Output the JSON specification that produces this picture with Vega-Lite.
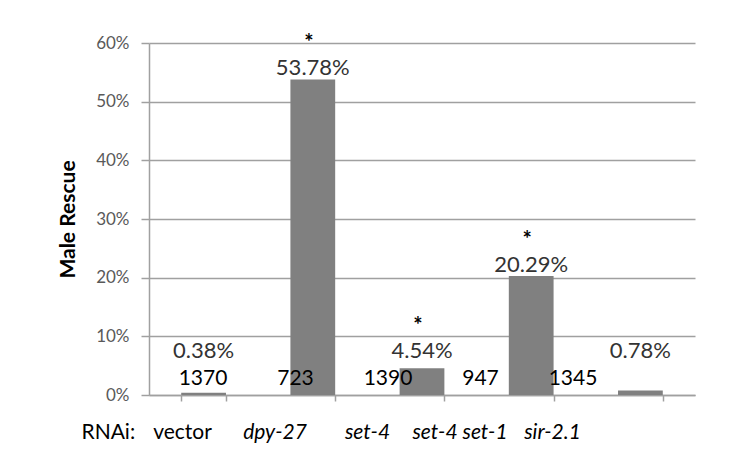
{
  "$schema": "https://vega.github.io/schema/vega-lite/v6.json",
  "width": 546,
  "height": 352,
  "autosize": {"type": "none"},
  "padding": {"left": 149, "top": 43, "right": 43, "bottom": 77},
  "background": "white",
  "config": {
    "view": {"stroke": null},
    "font": "Lato",
    "axis": {"domainColor": "#a0a0a0", "tickColor": "#a0a0a0", "gridColor": "#a0a0a0", "domainWidth": 1.5, "tickWidth": 1.5, "gridWidth": 1.5}
  },
  "datasets": {
    "rescue": [
      {"rnai": "vector", "rescue": 0.0038, "n": 1370, "sig": ""},
      {"rnai": "dpy-27", "rescue": 0.5378, "n": 723, "sig": "*"},
      {"rnai": "set-4", "rescue": 0.0454, "n": 1390, "sig": "*"},
      {"rnai": "set-4 set-1", "rescue": 0.2029, "n": 947, "sig": "*"},
      {"rnai": "sir-2.1", "rescue": 0.0078, "n": 1345, "sig": ""}
    ]
  },
  "data": {"name": "rescue"},
  "layer": [
    {
      "encoding": {
        "x": {
          "field": "rnai", "type": "nominal", "sort": null,
          "scale": {"domain": ["vector", "dpy-27", "set-4", "set-4 set-1", "sir-2.1"], "paddingInner": 0.59, "paddingOuter": 0.295},
          "axis": {"orient": "bottom", "title": null, "labels": false, "ticks": true, "tickSize": 6, "tickBand": "extent", "grid": false, "domain": true}
        },
        "y": {
          "field": "rescue", "type": "quantitative",
          "scale": {"domain": [0, 0.6]},
          "axis": {
            "title": "Male Rescue", "titleFont": "Lato", "titleFontSize": 21, "titleFontWeight": "bold", "titleColor": "#000000", "titlePadding": 17,
            "format": ".0%", "values": [0, 0.1, 0.2, 0.3, 0.4, 0.5, 0.6],
            "labelFont": "Lato", "labelFontSize": 17, "labelColor": "#595959", "labelPadding": 12,
            "tickSize": 8, "grid": true, "domain": true
          }
        }
      },
      "layer": [
        {"mark": {"type": "bar", "color": "#808080"}},
        {
          "transform": [{"filter": "datum.rescue >= 0.1"}],
          "mark": {"type": "text", "font": "Lato", "fontSize": 22, "color": "#333333", "baseline": "middle", "dy": -11},
          "encoding": {"text": {"field": "rescue", "type": "quantitative", "format": ".2%"}}
        },
        {
          "transform": [{"filter": "datum.rescue >= 0.1 && datum.sig == '*'"}],
          "mark": {"type": "text", "font": "Lato", "fontSize": 22, "fontWeight": "bold", "color": "#000000", "baseline": "middle", "dy": -36, "dx": -4},
          "encoding": {"text": {"field": "sig", "type": "nominal"}}
        },
        {
          "transform": [{"filter": "datum.rescue < 0.1"}],
          "mark": {"type": "text", "font": "Lato", "fontSize": 22, "color": "#333333", "baseline": "middle"},
          "encoding": {
            "y": {"datum": 0.075, "type": "quantitative"},
            "text": {"field": "rescue", "type": "quantitative", "format": ".2%"}
          }
        },
        {
          "transform": [{"filter": "datum.rescue < 0.1 && datum.sig == '*'"}],
          "mark": {"type": "text", "font": "Lato", "fontSize": 22, "fontWeight": "bold", "color": "#000000", "baseline": "middle", "dy": -25, "dx": -4},
          "encoding": {
            "y": {"datum": 0.075, "type": "quantitative"},
            "text": {"field": "sig", "type": "nominal"}
          }
        }
      ]
    },
    {
      "mark": {"type": "text", "font": "Lato", "fontSize": 21, "color": "#000000", "baseline": "middle", "dx": 21},
      "encoding": {
        "x": {
          "field": "rnai", "type": "nominal", "sort": null,
          "scale": {"type": "point", "domain": ["vector", "dpy-27", "set-4", "set-4 set-1", "sir-2.1"], "padding": 0.951, "align": 0.1875},
          "axis": {
            "orient": "bottom", "domain": false, "ticks": false, "tickSize": 0, "grid": false,
            "labelFont": "Lato", "labelFontSize": 21, "labelColor": "#000000", "labelPadding": 26, "labelAngle": 0,
            "labelFontStyle": {"condition": {"test": "datum.value == 'vector'", "value": "normal"}, "value": "italic"},
            "title": "RNAi:", "titleFont": "Lato", "titleFontSize": 21, "titleFontWeight": "normal", "titleColor": "#000000",
            "titleAngle": 0, "titleAlign": "left", "titleBaseline": "alphabetic", "titleX": -68, "titleY": 43
          }
        },
        "y": {"datum": 0.028, "type": "quantitative"},
        "text": {"field": "n", "type": "nominal"}
      }
    }
  ],
  "resolve": {"scale": {"x": "independent"}, "axis": {"x": "independent"}}
}
